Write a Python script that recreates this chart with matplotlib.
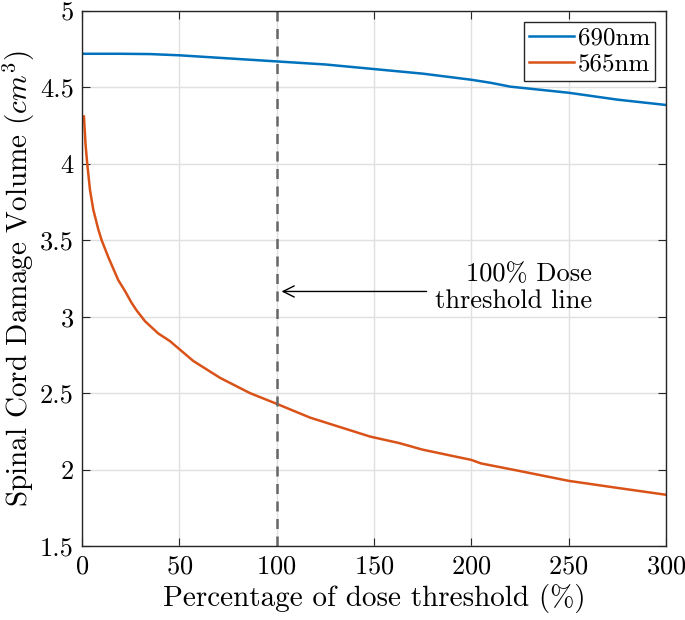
import matplotlib
matplotlib.use("Agg")
import matplotlib.pyplot as plt
import numpy as np

plt.rcParams['font.family'] = 'cmr10'
plt.rcParams['mathtext.fontset'] = 'cm'
plt.rcParams['axes.formatter.use_mathtext'] = True

# Data
x690 = [1, 10, 20, 35, 50, 75, 100, 125, 150, 175, 200, 210, 220, 250, 275, 300]
y690 = [4.72, 4.72, 4.72, 4.718, 4.71, 4.69, 4.67, 4.65, 4.62, 4.59, 4.55, 4.53, 4.505, 4.465, 4.42, 4.385]

x565 = [1, 1.8, 2.7, 4.1, 5.8, 8.4, 10.1, 13.5, 18.6, 22, 25.5, 28.1, 32.4, 39.2, 45.2, 49.8,
        57.2, 70.9, 86.3, 100, 117.1, 147.9, 163, 175, 200, 205, 225, 250, 275, 300]
y565 = [4.31, 4.13, 4.0, 3.83, 3.70, 3.57, 3.50, 3.39, 3.24, 3.17, 3.09, 3.04, 2.97, 2.89, 2.84, 2.79,
        2.71, 2.60, 2.50, 2.43, 2.34, 2.216, 2.173, 2.13, 2.063, 2.04, 1.99, 1.926, 1.88, 1.835]

xticks = [0, 50, 100, 150, 200, 250, 300]
yticks = [1.5, 2, 2.5, 3, 3.5, 4, 4.5, 5]
ytick_labels = ['1.5', '2', '2.5', '3', '3.5', '4', '4.5', '5']

threshold_x = 100

blue = (0, 0.447, 0.741)
orange = (0.85, 0.325, 0.098)

fig = plt.figure(figsize=(6.85, 6.2), dpi=100)
ax = fig.add_axes([0.1197, 0.1194, 0.8526, 0.8629])

ax.plot(x690, y690, color=blue, lw=1.8, label='690nm')
ax.plot(x565, y565, color=orange, lw=1.8, label='565nm')
ax.axvline(threshold_x, color=(0.4, 0.4, 0.4), lw=1.8, ls=(0, (4, 3)))

ax.annotate('', xy=(102.5, 3.165), xytext=(177, 3.165),
            arrowprops=dict(arrowstyle='->', color='black', lw=1.0,
                            shrinkA=0, shrinkB=0, mutation_scale=20))
ax.text(262, 3.19, '100% Dose\nthreshold line', ha='right', va='center',
        fontsize=19, linespacing=1.15)

ax.set_xlim(0, 300)
ax.set_ylim(1.5, 5)
ax.set_xticks(xticks)
ax.set_yticks(yticks)
ax.set_yticklabels(ytick_labels)
ax.tick_params(direction='in', length=6, width=0.8, labelsize=19, pad=6,
               top=True, right=True, colors=(0.15, 0.15, 0.15), labelcolor='black')
ax.grid(True, color=(0.88, 0.88, 0.88), lw=1.0)
ax.set_axisbelow(True)
for s in ax.spines.values():
    s.set_color((0.15, 0.15, 0.15))
    s.set_linewidth(1.0)

ax.set_xlabel('Percentage of dose threshold (%)', fontsize=21, labelpad=4)
ax.set_ylabel(r'Spinal Cord Damage Volume ($cm^3$)', fontsize=21, labelpad=2)

leg = ax.legend(loc='upper right', fontsize=18, frameon=True, fancybox=False,
                edgecolor=(0.15, 0.15, 0.15), framealpha=1, borderaxespad=0.45,
                handlelength=1.8, handletextpad=0.15, borderpad=0.2, labelspacing=0.15)
leg.get_frame().set_linewidth(1.0)

fig.savefig('out.png', dpi=100)
